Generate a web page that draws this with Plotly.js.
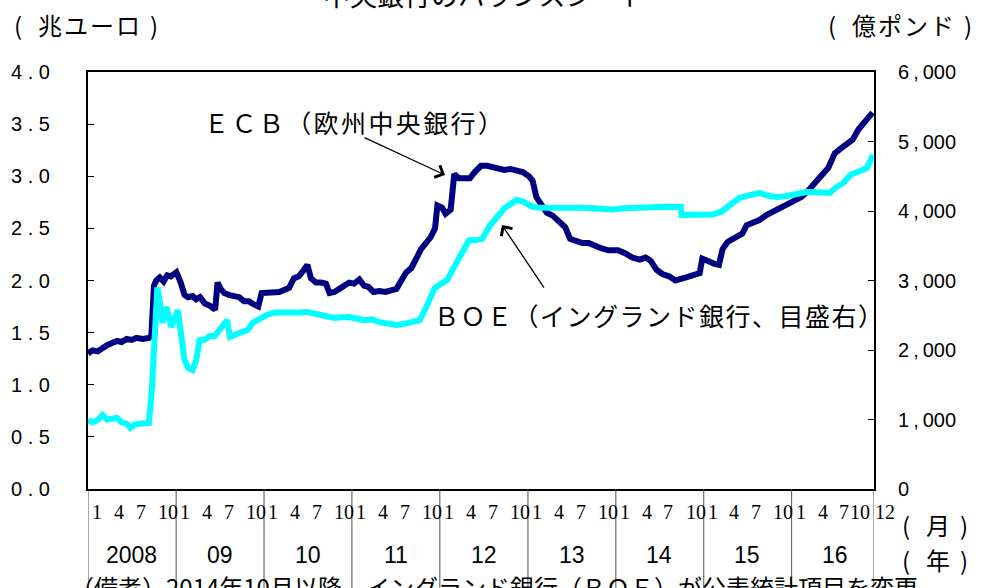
<!DOCTYPE html>
<html>
<head>
<meta charset="utf-8">
<script src="https://cdn.plot.ly/plotly-3.0.1.min.js"></script>
<style>
html,body{margin:0;padding:0;background:#fff;}
#chart{width:988px;height:588px;}
</style>
</head>
<body>
<div id="chart"></div>
<script>
// ECB balance sheet (trillion euro, left axis)
const ecbDates = ['2008-01-01','2008-01-20','2008-02-10','2008-03-01','2008-03-20','2008-04-10','2008-05-01','2008-05-20','2008-06-10','2008-07-01','2008-07-20','2008-08-15','2008-09-10','2008-09-20','2008-10-01','2008-10-10','2008-10-25','2008-11-10','2008-11-25','2008-12-10','2009-01-02','2009-01-20','2009-02-05','2009-02-20','2009-03-10','2009-03-25','2009-04-10','2009-04-30','2009-05-20','2009-06-12','2009-06-22','2009-07-05','2009-07-20','2009-08-10','2009-08-30','2009-09-20','2009-10-10','2009-10-30','2009-11-20','2009-12-08','2009-12-22','2010-01-15','2010-02-10','2010-03-05','2010-03-25','2010-04-15','2010-05-05','2010-05-25','2010-06-15','2010-06-30','2010-07-15','2010-08-05','2010-08-25','2010-09-15','2010-09-30','2010-10-20','2010-11-10','2010-11-30','2010-12-20','2011-01-10','2011-02-01','2011-02-20','2011-03-10','2011-04-01','2011-04-25','2011-05-20','2011-06-15','2011-07-05','2011-07-25','2011-08-15','2011-09-05','2011-09-25','2011-10-15','2011-11-05','2011-11-25','2011-12-12','2011-12-22','2012-01-10','2012-01-25','2012-02-15','2012-03-01','2012-03-20','2012-04-15','2012-05-05','2012-05-25','2012-06-20','2012-07-15','2012-08-10','2012-09-05','2012-09-25','2012-10-20','2012-11-15','2012-12-10','2013-01-05','2013-01-20','2013-02-05','2013-02-25','2013-03-20','2013-04-15','2013-05-10','2013-06-05','2013-06-25','2013-07-20','2013-08-15','2013-09-10','2013-10-05','2013-11-01','2013-12-01','2014-01-10','2014-02-10','2014-03-10','2014-04-10','2014-05-05','2014-05-25','2014-06-20','2014-07-15','2014-08-10','2014-09-05','2014-09-25','2014-10-20','2014-11-15','2014-12-15','2014-12-26','2015-01-20','2015-02-15','2015-03-05','2015-03-20','2015-04-10','2015-05-10','2015-06-10','2015-06-28','2015-07-25','2015-08-20','2015-09-20','2015-10-15','2015-11-10','2015-12-10','2016-01-15','2016-02-10','2016-03-05','2016-04-01','2016-05-01','2016-06-01','2016-06-28','2016-07-25','2016-08-20','2016-09-10','2016-10-05','2016-10-30','2016-12-02'];
const ecbValues = [1.30,1.33,1.32,1.36,1.38,1.40,1.42,1.41,1.44,1.43,1.45,1.44,1.45,1.47,1.95,2.00,2.03,1.99,2.05,2.04,2.08,1.98,1.86,1.84,1.85,1.82,1.84,1.78,1.76,1.72,1.98,1.92,1.88,1.86,1.85,1.84,1.80,1.80,1.77,1.75,1.88,1.88,1.89,1.89,1.91,1.93,2.02,2.04,2.10,2.15,2.02,1.98,1.98,1.97,1.88,1.89,1.92,1.95,1.98,1.97,2.01,1.95,1.94,1.89,1.90,1.89,1.91,1.92,2.00,2.08,2.12,2.22,2.30,2.36,2.42,2.50,2.72,2.70,2.64,2.68,3.02,2.98,2.98,2.98,3.04,3.10,3.10,3.09,3.08,3.06,3.07,3.05,3.04,3.00,2.96,2.80,2.72,2.65,2.62,2.57,2.51,2.40,2.38,2.36,2.36,2.33,2.31,2.29,2.29,2.26,2.22,2.20,2.22,2.19,2.10,2.06,2.04,2.00,2.02,2.03,2.05,2.07,2.21,2.18,2.16,2.15,2.30,2.37,2.41,2.45,2.53,2.55,2.58,2.63,2.66,2.69,2.73,2.77,2.80,2.85,2.93,3.00,3.08,3.22,3.27,3.31,3.35,3.45,3.52,3.61];

// BOE balance sheet (100 million pounds, right axis)
const boeDates = ['2008-01-01','2008-01-20','2008-02-10','2008-03-01','2008-03-20','2008-04-10','2008-04-30','2008-05-20','2008-06-10','2008-06-25','2008-07-15','2008-08-05','2008-08-25','2008-09-10','2008-09-22','2008-10-03','2008-10-15','2008-10-25','2008-11-05','2008-11-22','2008-12-12','2009-01-08','2009-01-25','2009-02-05','2009-02-20','2009-03-10','2009-03-25','2009-04-08','2009-05-01','2009-05-20','2009-06-10','2009-07-01','2009-07-20','2009-08-01','2009-08-12','2009-09-10','2009-10-01','2009-10-25','2009-11-15','2009-12-10','2010-01-10','2010-02-15','2010-04-05','2010-05-20','2010-07-01','2010-08-10','2010-09-20','2010-10-20','2010-11-20','2010-12-20','2011-01-25','2011-02-20','2011-03-25','2011-04-25','2011-06-01','2011-07-05','2011-08-10','2011-09-10','2011-10-10','2011-11-10','2011-12-10','2012-01-05','2012-02-01','2012-03-01','2012-04-01','2012-05-01','2012-05-25','2012-06-25','2012-07-25','2012-08-25','2012-09-25','2012-10-25','2012-11-15','2012-12-10','2012-12-28','2013-01-20','2013-02-20','2013-04-01','2013-06-01','2013-08-01','2013-10-01','2013-12-15','2014-02-01','2014-04-01','2014-06-01','2014-08-01','2014-09-28','2014-10-01','2014-12-01','2015-02-08','2015-03-15','2015-04-18','2015-05-28','2015-07-01','2015-08-20','2015-10-01','2015-11-01','2015-12-01','2016-01-06','2016-02-05','2016-03-03','2016-04-15','2016-06-06','2016-07-06','2016-08-01','2016-09-01','2016-10-05','2016-11-09','2016-12-03'];
const boeValues = [990,960,990,1065,1000,1010,1022,960,940,880,930,940,945,950,1420,2000,2900,2700,2390,2620,2330,2575,2200,1850,1740,1710,1850,2140,2150,2200,2200,2300,2380,2430,2190,2230,2250,2290,2390,2450,2500,2540,2550,2540,2545,2520,2480,2460,2470,2475,2450,2430,2440,2400,2380,2360,2380,2400,2430,2650,2890,2950,3010,3200,3400,3580,3580,3600,3780,3920,4040,4110,4160,4140,4115,4060,4045,4040,4050,4045,4040,4020,4040,4050,4055,4060,4058,3942,3945,3950,3990,4086,4187,4220,4259,4215,4200,4210,4230,4250,4273,4270,4259,4345,4400,4518,4560,4619,4806];

const leftTickVals = [0,0.5,1,1.5,2,2.5,3,3.5,4];
const leftTickText = ['0 . 0','0 . 5','1 . 0','1 . 5','2 . 0','2 . 5','3 . 0','3 . 5','4 . 0'];
const rightTickVals = [0,1000,2000,3000,4000,5000,6000];
const rightTickText = ['0','1\u2009,\u2009000','2\u2009,\u2009000','3\u2009,\u2009000','4\u2009,\u2009000','5\u2009,\u2009000','6\u2009,\u2009000'];

const years = [2008,2009,2010,2011,2012,2013,2014,2015,2016];
const yearLabels = ['2008','09','10','11','12','13','14','15','16'];
const monthLabels = [1,4,7,10];
const xStart = '2008-01-01';
const xEnd = '2016-12-08';

const cjk = 'Noto Sans CJK JP, Noto Sans, sans-serif';
const sans = 'Liberation Sans, Arial, sans-serif';
const serif = 'Liberation Serif, Times New Roman, serif';
const spaced = (t, ls) => '<span style="letter-spacing:' + ls + 'px">' + t + '</span>';

const traces = [
  {x: ecbDates, y: ecbValues, type: 'scatter', mode: 'lines', yaxis: 'y',
   line: {color: '#000080', width: 6, shape: 'linear'}, hoverinfo: 'skip'},
  {x: boeDates, y: boeValues, type: 'scatter', mode: 'lines', yaxis: 'y2',
   line: {color: '#00FFFF', width: 6, shape: 'linear'}, hoverinfo: 'skip'}
];

const annotations = [];
const shapes = [];
const pad = n => (n < 10 ? '0' + n : '' + n);

years.forEach((yr, i) => {
  monthLabels.forEach(m => {
    const crowded = (yr === 2016 && m === 10);
    annotations.push({x: yr + '-' + pad(m) + '-01', xref: 'x', y: -0.055, yref: 'paper',
      text: String(m), showarrow: false, xanchor: 'left', yanchor: 'middle', xshift: crowded ? -10 : 2,
      font: {family: serif, size: 20, color: '#000'}});
  });
  annotations.push({x: yr + '-07-01', xref: 'x', y: -0.158, yref: 'paper', text: yearLabels[i],
    showarrow: false, xanchor: 'center', yanchor: 'middle',
    font: {family: sans, size: 23, color: '#000'}});
  shapes.push({type: 'line', xref: 'x', yref: 'paper', x0: yr + '-01-01', x1: yr + '-01-01',
    y0: 0, y1: -0.3, line: {color: '#505050', width: 1}});
});
annotations.push({x: '2016-12-01', xref: 'x', y: -0.055, yref: 'paper', text: '12', showarrow: false,
  xanchor: 'left', yanchor: 'middle', xshift: 1, font: {family: serif, size: 20, color: '#000'}});
shapes.push({type: 'line', xref: 'x', yref: 'paper', x0: xEnd, x1: xEnd, y0: 0, y1: -0.3,
  line: {color: '#505050', width: 1}});

annotations.push(
  {x: 0.505, y: 1.185, xref: 'paper', yref: 'paper', text: '中央銀行のバランスシート', showarrow: false,
   xanchor: 'center', yanchor: 'middle', font: {family: cjk, size: 27, color: '#000'}},
  {x: -0.0967, y: 1.115, xref: 'paper', yref: 'paper', text: spaced('(\u2002兆ユーロ\u2005)', 2), showarrow: false,
   xanchor: 'left', yanchor: 'middle', font: {family: cjk, size: 24, color: '#000'}},
  {x: 0.9390, y: 1.115, xref: 'paper', yref: 'paper', text: spaced('(\u2002億ポンド\u2005)', 2), showarrow: false,
   xanchor: 'left', yanchor: 'middle', font: {family: cjk, size: 24, color: '#000'}},
  {x: 1.0331, y: -0.084, xref: 'paper', yref: 'paper', text: spaced('(\u2002月\u2005)', 2), showarrow: false,
   xanchor: 'left', yanchor: 'middle', font: {family: cjk, size: 24, color: '#000'}},
  {x: 1.0331, y: -0.170, xref: 'paper', yref: 'paper', text: spaced('(\u2002年\u2005)', 2), showarrow: false,
   xanchor: 'left', yanchor: 'middle', font: {family: cjk, size: 24, color: '#000'}},
  {x: -0.0254, y: -0.235, xref: 'paper', yref: 'paper',
   text: '（備考）2014年10月以降、イングランド銀行（ＢＯＥ）が公表統計項目を変更', showarrow: false,
   xanchor: 'left', yanchor: 'middle', font: {family: cjk, size: 24, color: '#000'}},
  {x: 0.145, y: 0.880, xref: 'paper', yref: 'paper', text: spaced('ＥＣＢ（欧州中央銀行）', 2.4), showarrow: false,
   xanchor: 'left', yanchor: 'middle', font: {family: cjk, size: 25, color: '#000'}},
  {x: 0.4377, y: 0.417, xref: 'paper', yref: 'paper', text: spaced('ＢＯＥ（イングランド銀行、目盛右）', 1.5), showarrow: false,
   xanchor: 'left', yanchor: 'middle', font: {family: cjk, size: 25, color: '#000'}},
  {x: 0.4542, y: 0.753, xref: 'paper', yref: 'paper', text: '', showarrow: true,
   ax: -82, ay: -38, arrowhead: 4, arrowsize: 2, arrowwidth: 1.3, arrowcolor: '#000'},
  {x: 0.5267, y: 0.633, xref: 'paper', yref: 'paper', text: '', showarrow: true,
   ax: 43, ay: 64, arrowhead: 4, arrowsize: 2, arrowwidth: 1.3, arrowcolor: '#000'}
);

const layout = {
  width: 988, height: 588,
  margin: {l: 88, r: 114, t: 72, b: 99, pad: 0},
  paper_bgcolor: '#fff', plot_bgcolor: '#fff',
  showlegend: false,
  xaxis: {type: 'date', range: [xStart, xEnd], showticklabels: false, ticks: '', showgrid: false,
    zeroline: false, showline: true, mirror: true, linecolor: '#000', linewidth: 2, fixedrange: true},
  yaxis: {range: [0, 4], tickmode: 'array', tickvals: leftTickVals, ticktext: leftTickText,
    ticks: 'inside', ticklen: 6, tickwidth: 1, tickcolor: '#000', showgrid: false, zeroline: false,
    showline: true, linecolor: '#000', linewidth: 2, ticklabelstandoff: 32,
    tickfont: {family: sans, size: 20, color: '#000'}, fixedrange: true},
  yaxis2: {range: [0, 6000], overlaying: 'y', side: 'right', tickmode: 'array', tickvals: rightTickVals,
    ticktext: rightTickText, ticks: 'inside', ticklen: 6, tickwidth: 1, tickcolor: '#000',
    showgrid: false, zeroline: false, showline: true, linecolor: '#000', linewidth: 2,
    ticklabelstandoff: 18, tickfont: {family: sans, size: 20, color: '#000'}, fixedrange: true},
  annotations: annotations,
  shapes: shapes
};

Plotly.newPlot('chart', traces, layout, {staticPlot: true, displayModeBar: false});
</script>
</body>
</html>
